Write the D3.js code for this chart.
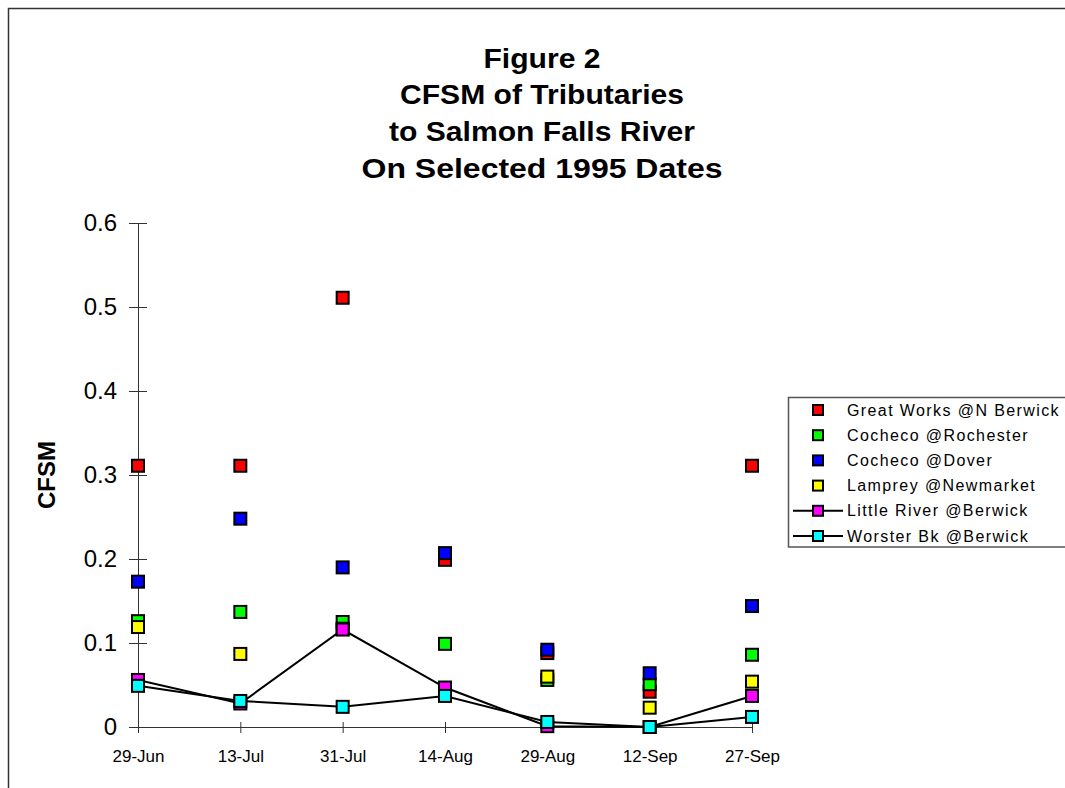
<!DOCTYPE html>
<html>
<head>
<meta charset="utf-8">
<script src="https://cdn.jsdelivr.net/npm/d3@7"></script>
<style>
  html, body { margin: 0; padding: 0; background: #fff; }
  svg { display: block; font-family: "Liberation Sans", Arial, sans-serif; }
</style>
</head>
<body>
<svg id="chart" width="1065" height="788"></svg>
<script>
// ---- data ----
const dates = ["29-Jun", "13-Jul", "31-Jul", "14-Aug", "29-Aug", "12-Sep", "27-Sep"];
const yTicks = [0, 0.1, 0.2, 0.3, 0.4, 0.5, 0.6];
const titleLines = ["Figure 2", "CFSM of Tributaries", "to Salmon Falls River", "On Selected 1995 Dates"];
const seriesNames = ["Great Works @N Berwick", "Cocheco @Rochester", "Cocheco @Dover",
                     "Lamprey @Newmarket", "Little River @Berwick", "Worster Bk @Berwick"];
const greatWorks  = [0.311, 0.311, 0.511, 0.199, 0.088, 0.042, 0.311];
const cochecoRoch = [0.126, 0.137, 0.125, 0.099, 0.056, 0.051, 0.086];
const cochecoDov  = [0.173, 0.248, 0.190, 0.207, 0.092, 0.064, 0.144];
const lamprey     = [0.119, 0.087, 0.117, 0.044, 0.060, 0.023, 0.054];
const littleRiver = [0.056, 0.028, 0.116, 0.047, 0.001, 0.000, 0.037];
const worsterBk   = [0.049, 0.031, 0.024, 0.037, 0.006, 0.000, 0.012];

const seriesValues = [greatWorks, cochecoRoch, cochecoDov, lamprey, littleRiver, worsterBk];
const seriesColors = ["#ff0000", "#00ff00", "#0000ff", "#ffff00", "#ff00ff", "#00ffff"];
const seriesLine   = [false, false, false, false, true, true];

const svg = d3.select("#chart");

// outer frame
svg.append("path")
  .attr("d", "M8.5,788 L8.5,8.5 L1065,8.5")
  .attr("fill", "none").attr("stroke", "#333").attr("stroke-width", 1.5);

// scales
const x = d3.scalePoint().domain(dates).range([138, 752]);
const y = d3.scaleLinear().domain([0, 0.6]).range([727, 223]);

// title
const titleW = [117, 284, 306, 361];
const titleY = [68, 104, 141, 178];
svg.append("g").selectAll("text").data(titleLines).join("text")
  .attr("x", 542).attr("y", (d, i) => titleY[i])
  .attr("text-anchor", "middle")
  .attr("font-size", 27).attr("font-weight", "bold")
  .attr("textLength", (d, i) => titleW[i])
  .attr("lengthAdjust", "spacingAndGlyphs")
  .text(d => d);

// y axis
const yAxis = svg.append("g").attr("transform", "translate(138,0)")
  .call(d3.axisLeft(y).tickValues(yTicks).tickFormat(d3.format("")).tickSize(9).tickPadding(12));
yAxis.select(".domain").attr("stroke", "#333");
yAxis.selectAll(".tick line").attr("x1", 9).attr("stroke", "#333");
yAxis.selectAll(".tick text").attr("font-size", 24).attr("fill", "#000")
  .attr("font-family", "Liberation Sans, Arial, sans-serif");

// x axis
const xAxis = svg.append("g").attr("transform", "translate(0,727)")
  .call(d3.axisBottom(x).tickSize(6).tickPadding(17).tickSizeOuter(0));
xAxis.select(".domain").attr("stroke", "#333");
xAxis.selectAll(".tick line").attr("y1", -5).attr("stroke", "#333");
xAxis.selectAll(".tick text").attr("font-size", 17).attr("fill", "#000")
  .attr("font-family", "Liberation Sans, Arial, sans-serif");

// y axis title
svg.append("text")
  .attr("transform", "translate(55,475) rotate(-90)")
  .attr("text-anchor", "middle")
  .attr("font-size", 24).attr("font-weight", "bold")
  .text("CFSM");

// lines
const line = d3.line().x((d, i) => x(dates[i])).y(d => y(d));
seriesValues.forEach((vals, s) => {
  if (seriesLine[s]) {
    svg.append("path").datum(vals)
      .attr("d", line)
      .attr("fill", "none").attr("stroke", "#000").attr("stroke-width", 2);
  }
});

// markers
const ms = 12;
seriesValues.forEach((vals, s) => {
  svg.append("g").selectAll("rect").data(vals.map((v, i) => ({v, i}))).join("rect")
    .attr("x", d => x(dates[d.i]) - ms / 2)
    .attr("y", d => y(d.v) - ms / 2)
    .attr("width", ms).attr("height", ms)
    .attr("fill", seriesColors[s])
    .attr("stroke", "#000").attr("stroke-width", 2);
});

// legend
const lg = svg.append("g");
lg.append("path")
  .attr("d", "M1065,397.5 L788.5,397.5 L788.5,547 L1065,547")
  .attr("fill", "none").attr("stroke", "#555").attr("stroke-width", 1.5);
seriesNames.forEach((name, s) => {
  const ry = 410 + s * 25.2;
  if (seriesLine[s]) {
    lg.append("line").attr("x1", 793).attr("x2", 843).attr("y1", ry).attr("y2", ry)
      .attr("stroke", "#000").attr("stroke-width", 2);
  }
  lg.append("rect").attr("x", 818 - 5).attr("y", ry - 5).attr("width", 10).attr("height", 10)
    .attr("fill", seriesColors[s]).attr("stroke", "#000").attr("stroke-width", 2);
  lg.append("text").attr("x", 847).attr("y", ry + 5.5)
    .attr("font-size", 16).attr("letter-spacing", 1.4)
    .text(name);
});
</script>
</body>
</html>
